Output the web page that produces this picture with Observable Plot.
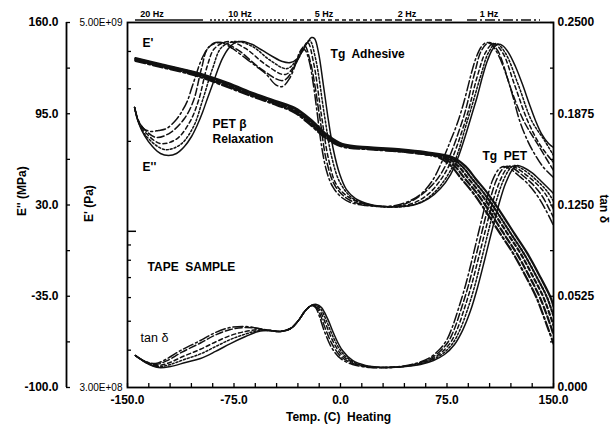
<!DOCTYPE html>
<html><head><meta charset="utf-8">
<script src="https://cdn.jsdelivr.net/npm/d3@7"></script>
<script src="https://cdn.jsdelivr.net/npm/@observablehq/plot@0.6"></script>
<style>
body{margin:0;background:#fff;}
#chart{position:relative;width:612px;height:429px;overflow:hidden;font-family:"Liberation Sans",Arial,sans-serif;}
#chart svg{position:absolute;left:0;top:0;}
</style></head><body><div id="chart"></div>
<script>
// ---------- data (temperature °C, value) ----------
const frequencies = ["1 Hz","2 Hz","5 Hz","10 Hz","20 Hz"];

// E'' loss modulus (MPa)
const lossModulus1Hz = [[-145,99.5],[-142.3,90.2],[-138.7,84.5],[-133.8,82.4],[-128.2,83.1],[-122.5,84.5],[-116.2,90.2],[-111.3,97.3],[-107.7,104.4],[-104.9,113.0],[-102.1,121.5],[-99.3,130.1],[-95.8,137.9],[-92.3,142.9],[-88.0,145.8],[-83.1,145.4],[-76.1,141.5],[-67.6,135.1],[-59.2,128.7],[-52.1,123.0],[-45.8,115.8],[-40.9,114.4],[-35.9,120.1],[-31.7,130.1],[-28.9,138.6],[-26.8,141.5],[-24.7,140.1],[-21.8,131.5],[-19.0,115.1],[-16.2,93.8],[-13.4,72.4],[-9.9,54.6],[-5.6,43.2],[0,36.1],[7.0,31.8],[17.6,29.7],[28.2,28.9],[38.7,29.7],[47.9,32.5],[56.3,37.5],[64.8,47.5],[71.8,61.7],[77.5,75.9],[81.7,86.6],[85.2,97.3],[88.7,110.1],[92.3,124.4],[95.8,135.8],[99.3,142.9],[102.8,145.8],[106.3,144.3],[111.3,136.5],[116.9,122.2],[121.8,105.9],[126.1,90.2],[131.7,75.9],[137.3,65.3],[143.0,56.7],[150,49.6]];
const lossModulus2Hz = [[-145,99.5],[-142.3,89.9],[-137.3,83.1],[-129.6,78.1],[-119.7,81.6],[-109.9,91.6],[-103.5,104.4],[-97.9,127.2],[-93.0,142.2],[-83.8,145.8],[-71.8,140.1],[-56.3,127.2],[-40.1,118.7],[-31.0,131.5],[-25.4,143.6],[-21.1,131.5],[-14.8,93.8],[-9.9,61.7],[-3.5,43.2],[7.0,33.2],[28.2,28.9],[42.3,29.7],[56.3,36.8],[70.4,51.7],[85.9,90.2],[94.4,123.7],[99.3,140.1],[104.9,145.8],[110.6,140.1],[120.4,111.6],[128.9,90.2],[139.4,72.4],[150,54.6]];
const lossModulus5Hz = [[-145,99.5],[-142.3,89.5],[-136.6,80.9],[-126.8,73.8],[-115.5,77.0],[-106.3,88.8],[-100.0,104.4],[-93.7,129.4],[-88.7,141.5],[-78.9,146.5],[-66.9,141.5],[-52.8,130.1],[-38.7,123.0],[-29.6,134.4],[-23.2,145.8],[-19.0,131.5],[-13.4,93.8],[-8.5,63.1],[-2.5,43.9],[8.5,33.9],[28.2,28.9],[45.7,29.7],[59.8,36.1],[73.9,53.2],[88.0,90.2],[96.5,122.2],[102.1,138.6],[107.7,145.0],[114.1,138.6],[122.5,115.8],[131.7,90.2],[140.8,72.4],[150,60.3]];
const lossModulus10Hz = [[-145,99.5],[-142.3,89.1],[-136.6,78.8],[-123.9,69.5],[-112.7,73.1],[-103.5,85.9],[-97.2,104.4],[-90.1,127.2],[-83.8,142.2],[-73.9,146.5],[-62.0,142.9],[-49.3,132.9],[-37.6,127.2],[-28.2,137.2],[-21.8,147.2],[-17.6,134.4],[-11.3,93.8],[-6.3,64.6],[0,45.3],[9.9,33.9],[29.6,28.9],[49.3,29.7],[62.0,35.3],[77.5,54.6],[89.4,90.2],[98.6,121.5],[104.2,138.6],[109.6,145.0],[115.9,138.6],[125.4,115.1],[134.5,90.2],[143.7,75.9],[150,65.3]];
const lossModulus20Hz = [[-145,99.5],[-142.3,88.8],[-138.0,79.5],[-132.4,71.7],[-126.8,66.7],[-121.1,65.3],[-115.5,66.7],[-109.9,71.7],[-104.9,78.8],[-100.7,87.3],[-97.2,95.9],[-93.7,105.9],[-90.1,115.8],[-86.6,125.8],[-83.1,134.4],[-78.9,141.5],[-73.9,145.8],[-69.0,146.5],[-62.0,144.3],[-54.9,140.1],[-47.9,135.8],[-40.9,132.2],[-35.2,131.5],[-30.3,134.4],[-26.8,140.1],[-23.2,145.8],[-20.4,149.3],[-18.3,148.6],[-15.5,138.6],[-12.0,115.1],[-8.5,90.2],[-4.9,68.8],[-0.7,52.4],[4.2,41.0],[10.6,34.6],[21.1,30.4],[31.7,28.9],[42.3,28.9],[52.8,30.4],[62.0,34.6],[70.4,41.8],[77.5,51.7],[83.1,64.6],[88.0,79.5],[92.3,93.8],[96.5,108.0],[100.0,121.5],[103.5,132.9],[107.0,140.8],[110.6,144.3],[114.1,143.6],[118.3,138.6],[123.2,128.7],[128.2,115.8],[133.1,101.6],[137.3,90.2],[141.5,80.9],[146.5,73.8],[150,71.0]];

// E' storage modulus (Pa)
const storageModulus1Hz = [[-144.4,3.72e9],[-126.8,3.55e9],[-102.8,3.33e9],[-79.6,3.04e9],[-60.6,2.81e9],[-44.4,2.64e9],[-32.4,2.50e9],[-21.1,2.27e9],[-9.2,2.03e9],[1.4,1.92e9],[21.1,1.88e9],[42.3,1.85e9],[59.9,1.81e9],[70.0,1.76e9],[78.1,1.65e9],[85.1,1.50e9],[93.6,1.34e9],[102.7,1.16e9],[112.6,9.8e8],[121.8,8.4e8],[130.9,7.0e8],[138.0,6.0e8],[145.0,4.9e8],[150,4.21e8]];
const storageModulus2Hz = [[-144.4,3.74e9],[-126.8,3.57e9],[-102.8,3.35e9],[-79.6,3.06e9],[-60.6,2.83e9],[-44.4,2.66e9],[-32.4,2.52e9],[-21.1,2.29e9],[-9.2,2.05e9],[1.4,1.93e9],[21.1,1.89e9],[42.3,1.85e9],[59.9,1.81e9],[71.4,1.77e9],[80.6,1.65e9],[87.6,1.50e9],[96.1,1.34e9],[105.2,1.16e9],[115.1,9.8e8],[124.3,8.4e8],[133.4,7.0e8],[140.5,6.0e8],[147.5,4.9e8],[150,4.5e8]];
const storageModulus5Hz = [[-144.4,3.76e9],[-126.8,3.59e9],[-102.8,3.37e9],[-79.6,3.08e9],[-60.6,2.85e9],[-44.4,2.68e9],[-32.4,2.54e9],[-21.1,2.31e9],[-9.2,2.06e9],[1.4,1.94e9],[21.1,1.89e9],[42.3,1.86e9],[59.9,1.82e9],[73.9,1.77e9],[83.1,1.65e9],[90.1,1.50e9],[98.6,1.34e9],[107.7,1.16e9],[117.6,9.83e8],[126.8,8.43e8],[135.9,7.0e8],[143.0,6.0e8],[150,4.84e8]];
const storageModulus10Hz = [[-144.4,3.78e9],[-126.8,3.61e9],[-102.8,3.39e9],[-79.6,3.11e9],[-60.6,2.87e9],[-44.4,2.70e9],[-32.4,2.57e9],[-21.1,2.34e9],[-9.2,2.08e9],[1.4,1.95e9],[21.1,1.90e9],[42.3,1.87e9],[59.9,1.83e9],[76.4,1.77e9],[85.6,1.65e9],[92.6,1.50e9],[101.1,1.34e9],[110.2,1.16e9],[120.1,9.8e8],[129.3,8.4e8],[138.4,7.0e8],[145.5,6.0e8],[150,5.2e8]];
const storageModulus20Hz = [[-144.4,3.80e9],[-126.8,3.63e9],[-102.8,3.41e9],[-79.6,3.14e9],[-60.6,2.89e9],[-44.4,2.72e9],[-32.4,2.59e9],[-21.1,2.37e9],[-9.2,2.10e9],[1.4,1.96e9],[21.1,1.91e9],[42.3,1.88e9],[59.9,1.84e9],[78.9,1.77e9],[88.1,1.65e9],[95.1,1.50e9],[103.6,1.34e9],[112.7,1.16e9],[122.6,9.8e8],[131.8,8.4e8],[140.9,7.0e8],[148.0,6.0e8],[150,5.6e8]];

// tan delta
const tanDelta1Hz = [[-144.4,.0219],[-137.3,.0178],[-130.3,.0164],[-123.2,.0192],[-112.7,.0253],[-98.6,.0322],[-88.0,.0377],[-77.5,.0411],[-66.9,.0418],[-57.8,.0404],[-49.3,.0390],[-42.3,.0384],[-35.2,.0404],[-29.6,.0459],[-24.7,.0527],[-20.4,.0562],[-17.6,.0548],[-14.8,.0486],[-11.3,.0384],[-6.3,.0274],[0,.0199],[8.5,.0158],[21.1,.0137],[31.7,.0137],[42.3,.0144],[52.8,.0164],[62.0,.0199],[69.0,.0253],[74.6,.0322],[78.9,.0418],[83.1,.0541],[88.0,.0699],[93.0,.0891],[97.9,.1089],[102.8,.1281],[107.0,.1418],[111.3,.1493],[114.8,.1514],[119.0,.1500],[125.4,.1452],[132.4,.1391],[139.4,.1302],[145.1,.1206],[150,.1110]];
const tanDelta2Hz = [[-144.4,.0219],[-137.3,.0177],[-129.8,.0158],[-122.5,.0182],[-112,.0240],[-98.6,.0305],[-88,.0360],[-77.5,.0397],[-66.9,.0411],[-57.8,.0404],[-49.3,.0390],[-42.3,.0384],[-35.2,.0404],[-29.6,.0459],[-24.7,.0527],[-20.4,.0562],[-17.4,.0555],[-14.5,.0503],[-10.8,.0407],[-5.8,.0295],[0.3,.0212],[8.5,.0165],[20,.0140],[31.7,.0137],[43,.0144],[53.5,.0163],[63,.0196],[70,.0247],[76,.0315],[80.6,.0411],[85,.0538],[90,.0696],[95,.0886],[100,.1082],[105,.1274],[109.5,.1414],[113.8,.1493],[117.2,.1516],[121.5,.1502],[127.7,.1457],[134.7,.1398],[141.7,.1316],[147.5,.1213],[150,.1165]];
const tanDelta5Hz = [[-144.4,.0219],[-137.3,.0175],[-129,.0150],[-121,.0168],[-111,.0212],[-98.6,.0262],[-88,.0312],[-77.5,.0356],[-66.9,.0384],[-57.8,.0397],[-49.3,.0390],[-42.3,.0384],[-35.2,.0404],[-29.6,.0459],[-24.7,.0527],[-20.4,.0562],[-17.2,.0560],[-14.1,.0520],[-10.2,.0430],[-5.2,.0315],[0.7,.0225],[8.5,.0172],[19,.0144],[31.7,.0137],[44,.0144],[54.5,.0161],[63.8,.0192],[71.1,.0240],[77.5,.0308],[82.4,.0404],[87,.0534],[92,.0692],[97,.0880],[102,.1075],[107,.1264],[112,.1408],[116.5,.1493],[119.8,.1518],[124,.1503],[130,.1462],[137,.1405],[144,.1330],[150,.1220]];
const tanDelta10Hz = [[-144.4,.0219],[-137.3,.0173],[-128.6,.0143],[-120.5,.0156],[-110,.0192],[-98.6,.0230],[-88,.0280],[-77.5,.0329],[-66.9,.0366],[-57.8,.0390],[-49.3,.0390],[-42.3,.0384],[-35.2,.0404],[-29.6,.0459],[-24.7,.0527],[-20.4,.0562],[-17,.0565],[-13.7,.0535],[-9.7,.0452],[-4.7,.0336],[1,.0240],[8.5,.0178],[18,.0147],[31.7,.0137],[45,.0144],[55.5,.0160],[64.6,.0189],[72.2,.0233],[78.9,.0301],[84.2,.0397],[89.3,.0530],[94.3,.0688],[99.2,.0875],[104.1,.1068],[109,.1255],[114,.1402],[118.8,.1493],[122.2,.1520],[126.5,.1505],[132.3,.1468],[138.9,.1412],[145.3,.1347],[150,.1275]];
const tanDelta20Hz = [[-144.4,.0219],[-137.3,.0171],[-128.2,.0137],[-119.7,.0144],[-109.2,.0171],[-98.6,.0199],[-88.0,.0247],[-77.5,.0301],[-66.9,.0349],[-57.8,.0384],[-49.3,.0390],[-42.3,.0384],[-35.2,.0404],[-29.6,.0459],[-24.7,.0527],[-20.4,.0562],[-16.9,.0569],[-13.4,.0548],[-9.2,.0473],[-4.2,.0356],[1.4,.0253],[8.5,.0185],[17.6,.0151],[31.7,.0137],[45.8,.0144],[56.3,.0158],[65.5,.0185],[73.2,.0226],[80.3,.0295],[85.9,.0390],[91.6,.0527],[96.5,.0685],[101.4,.0870],[106.3,.1062],[111.3,.1247],[116.2,.1397],[121.1,.1493],[124.6,.1521],[128.9,.1507],[134.5,.1473],[140.8,.1418],[146.5,.1363],[150,.1329]];

// ticks and labels
const tempTicks = [-150,-75,0,75,150];
const lossTicks = [-100,-35,30,95,160];
const storageTicks = [3e8,5e9];
const storageTickLabels = ["3.00E+08","5.00E+09"];
const tanTicks = [0,0.0625,0.125,0.1875,0.25];
const tanTickLabels = ["0.000","0.0525","0.1250","0.1875","0.2500"];

// annotations (temperature, E'' value)
const annotationLabels = ["E'","E''","PET β","Relaxation","Tg  Adhesive","Tg  PET","TAPE  SAMPLE"];
const annotationT = [-139.4,-139.4,-90.1,-90.1,-7.0,100.0,-135.9];
const annotationV = [145.0,56.7,87.3,76.7,137.2,64.6,-14.5];
const tanLabelT = [-140.8], tanLabelV = [-64.4];

// ---------- styles / layout ----------
const dash = {"1 Hz":"10,3,2,3","2 Hz":"7,3","5 Hz":"4,3","10 Hz":"2,2","20 Hz":null};
const FONT = '"Liberation Sans", Arial, sans-serif';
const base = {width:612,height:429,marginTop:22,marginRight:59,marginBottom:42,marginLeft:127,
  style:{background:"transparent",overflow:"visible",fontFamily:FONT,color:"black"}};

const lossSeries = {"1 Hz":lossModulus1Hz,"2 Hz":lossModulus2Hz,"5 Hz":lossModulus5Hz,"10 Hz":lossModulus10Hz,"20 Hz":lossModulus20Hz};
const storageSeries = {"1 Hz":storageModulus1Hz,"2 Hz":storageModulus2Hz,"5 Hz":storageModulus5Hz,"10 Hz":storageModulus10Hz,"20 Hz":storageModulus20Hz};
const tanSeries = {"1 Hz":tanDelta1Hz,"2 Hz":tanDelta2Hz,"5 Hz":tanDelta5Hz,"10 Hz":tanDelta10Hz,"20 Hz":tanDelta20Hz};

function lines(series, sw){
  return frequencies.map(f => Plot.line(series[f], {x:d=>d[0], y:d=>d[1], curve:"catmull-rom", stroke:"#111",
    strokeWidth:sw, strokeDasharray: dash[f] || undefined, clip:true}));
}

const annotations = annotationLabels.map((label,i)=>({label, T:annotationT[i], v:annotationV[i]}));

const plotLoss = Plot.plot({...base,
  x:{domain:[-150,150]},
  y:{domain:[-100,160]},
  marks:[
    Plot.frame({stroke:"black", strokeWidth:1.8}),
    Plot.axisX({ticks:d3.range(-150,151,15), tickSize:-4, tickFormat:()=>"", label:null, strokeWidth:1.3}),
    Plot.axisX({ticks:tempTicks, tickSize:0, tickPadding:8, tickFormat:d=>d.toFixed(1), fontSize:12, fontWeight:"bold", label:null}),
    Plot.ruleX([-150], {dx:-61, strokeWidth:1.8}),
    Plot.axisY({anchor:"left", ticks:d3.range(-100,161,32.5), tickSize:-4, dx:-61, tickFormat:()=>"", label:null, strokeWidth:1.3}),
    Plot.axisY({anchor:"left", ticks:lossTicks, tickSize:0, tickPadding:8, dx:-61, tickFormat:d=>d.toFixed(1), fontSize:12, fontWeight:"bold", label:null}),
    ...lines(lossSeries, 1.5),
    Plot.text(annotations, {x:"T", y:"v", text:"label", textAnchor:"start", fontSize:12, fontWeight:"bold"}),
    Plot.text(["tan δ"], {x:tanLabelT, y:tanLabelV, textAnchor:"start", fontSize:12.5}),
    Plot.text(["E'' (MPa)"], {frameAnchor:"left", dx:-105, dy:11, rotate:-90, fontSize:12, fontWeight:"bold"}),
    Plot.text(["Temp. (C)  Heating"], {frameAnchor:"bottom", dy:33, dx:-2, fontSize:12, fontWeight:"bold"})
  ]});

const plotStorage = Plot.plot({...base,
  x:{domain:[-150,150], axis:null},
  y:{type:"log", domain:[3e8,5e9]},
  marks:[
    Plot.axisY({anchor:"left", ticks:[4e8,5e8,6e8,7e8,8e8,9e8,2e9,3e9,4e9], tickSize:-4, tickFormat:()=>"", label:null, strokeWidth:1.3}),
    Plot.axisY({anchor:"left", ticks:[1e9], tickSize:-9, tickFormat:()=>"", label:null, strokeWidth:1.5}),
    Plot.axisY({anchor:"left", ticks:storageTicks, tickSize:0, tickPadding:5, tickFormat:d=>storageTickLabels[storageTicks.indexOf(d)], fontSize:10, label:null}),
    ...lines(storageSeries, 2.2),
    Plot.text(["E' (Pa)"], {frameAnchor:"left", dx:-38, dy:17, rotate:-90, fontSize:12, fontWeight:"bold"})
  ]});

const plotTan = Plot.plot({...base,
  x:{domain:[-150,150], axis:null},
  y:{domain:[0,0.25]},
  marks:[
    Plot.axisY({anchor:"right", ticks:d3.range(0,0.2501,0.03125), tickSize:-4, tickFormat:()=>"", label:null, strokeWidth:1.3}),
    Plot.axisY({anchor:"right", ticks:tanTicks, tickSize:0, tickPadding:4, tickFormat:d=>tanTickLabels[tanTicks.indexOf(d)], fontSize:12, fontWeight:"bold", label:null}),
    ...lines(tanSeries, 1.5),
    Plot.text(["tan δ"], {frameAnchor:"right", dx:50, dy:18, rotate:90, fontSize:12, fontWeight:"bold"})
  ]});

const chart = document.getElementById("chart");
chart.append(plotLoss, plotStorage, plotTan);

// frequency legend along the top edge
const legendFreqs = ["20 Hz","10 Hz","5 Hz","2 Hz","1 Hz"];
const legendLayout = [[135,203,152],[210,287,240],[293,372,324],[375,453,407],[467,540,489]];
const leg = d3.create("svg").attr("width",612).attr("height",26).style("font-family",FONT);
legendFreqs.forEach((f,i)=>{
  const [x1,x2,lx] = legendLayout[i];
  leg.append("line").attr("x1",x1).attr("x2",x2).attr("y1",20).attr("y2",20)
    .attr("stroke","#111").attr("stroke-width",1.6).attr("stroke-dasharray",dash[f]||null);
  leg.append("text").attr("x",lx).attr("y",17).attr("text-anchor","middle")
    .attr("font-size",9).attr("font-weight","bold").text(f);
});
chart.append(leg.node());
</script></body></html>
